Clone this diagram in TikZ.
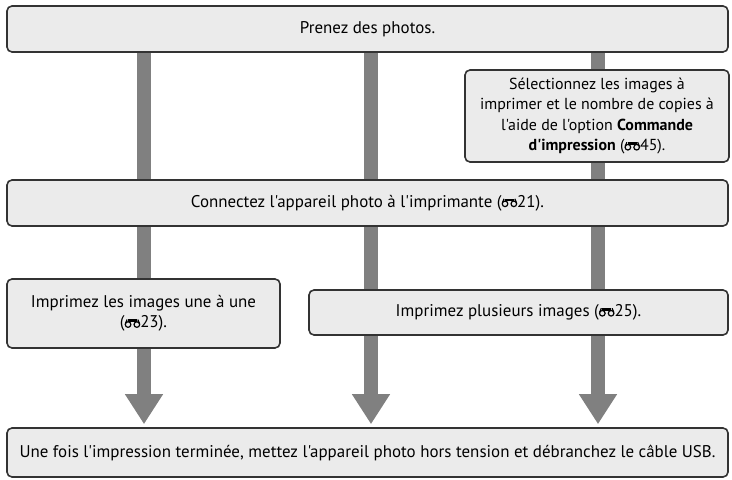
\documentclass[tikz,border=0pt]{standalone}
\usepackage{fontspec}
\newfontfamily\manualfont{PT Sans}
\usetikzlibrary{arrows.meta,backgrounds}
\tikzset{
	stage/.style={draw=black!80,line width=1.6bp,fill=black!8,rounded corners=5bp,
		inner sep=0pt,align=center},
	flow/.style={draw=black!50,line width=14bp,
		-{Triangle[width=36bp,length=30bp]},shorten >=3bp}
}
% small reference mark (binocular sign)
\newcommand{\refmark}{\tikz[baseline=0bp,x=1bp,y=1bp,line width=1.2bp]{
		\draw (3.6,3.4) circle (2.8);
		\draw (12.4,3.4) circle (2.8);
		\draw[line width=2.6bp] (3.6,7.3) -- (12.4,7.3);
		\draw (0.9,4.2) -- (2.6,8.4);
		\draw (15.1,4.2) -- (13.4,8.4);}}

\begin{document}
\begin{tikzpicture}[x=1bp,y=-1bp,font=\manualfont\fontsize{17}{20.5}\selectfont]
	\useasboundingbox (0,0) rectangle (732,480);

	% ==================================================
	% 1. BOXES
	% ==================================================
	\node[stage,minimum width=721bp,minimum height=46bp] (photos) at (367.5,29)
		{Prenez des photos.};

	\node[stage,minimum width=264bp,minimum height=92bp,
		font=\manualfont\fontsize{16}{20.5}\selectfont] (order) at (597,116)
		{Sélectionnez les images à\\imprimer et le nombre de copies à\\
		l'aide de l'option \textbf{Commande}\\\textbf{d'impression} (\refmark45).};

	\node[stage,minimum width=721bp,minimum height=46bp] (connect) at (367.5,203)
		{Connectez l'appareil photo à l'imprimante (\refmark21).};

	\node[stage,minimum width=273bp,minimum height=69bp] (single) at (143.5,313.5)
		{Imprimez les images une à une\\(\refmark23).};

	\node[stage,minimum width=419bp,minimum height=45bp] (multi) at (518.5,312.5)
		{Imprimez plusieurs images (\refmark25).};

	\node[stage,minimum width=721bp,minimum height=49bp] (done) at (367.5,452.5)
		{Une fois l'impression terminée, mettez l'appareil photo hors tension et débranchez le câble USB.};

	% ==================================================
	% 2. FLOW BARS (behind the boxes)
	% ==================================================
	\coordinate (colA) at (144,0);
	\coordinate (colB) at (371,0);
	\coordinate (colC) at (598,0);

	\begin{pgfonlayer}{background}
		\draw[flow] (photos.south -| colA) -- (done.north -| colA);
		\draw[flow] (photos.south -| colB) -- (done.north -| colB);
		\draw[flow] (photos.south -| colC) -- (done.north -| colC);
	\end{pgfonlayer}

\end{tikzpicture}
\end{document}
